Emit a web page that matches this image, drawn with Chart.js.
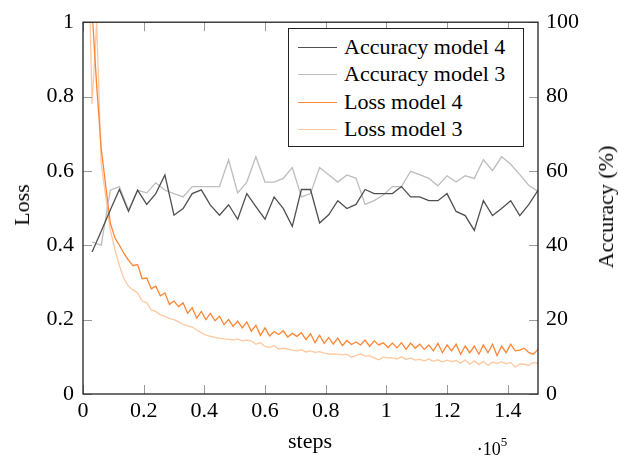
<!DOCTYPE html>
<html>
<head>
<meta charset="utf-8">
<script src="https://cdn.jsdelivr.net/npm/chart.js@4.4.1/dist/chart.umd.min.js"></script>
<style>
  body { margin: 0; background: #fff; }
  #wrap { position: relative; width: 618px; height: 458px; font-family: "Liberation Serif", serif; color: #000; }
  .lbl { position: absolute; white-space: nowrap; line-height: 1; font-size: 22px; transform: translate(-50%, -50%); }
  .rot { transform: translate(-50%, -50%) rotate(-90deg); }
  #legend { position: absolute; left: 288px; top: 28px; width: 234px; height: 117px; border: 1.3px solid #222; background: #fff; }
  .row { position: absolute; left: 0; height: 22px; font-size: 22px; line-height: 22px; white-space: nowrap; }
  .row .sw { position: absolute; left: 9px; top: 11px; width: 39px; height: 0; border-top: 1.3px solid; }
  .row .tx { position: absolute; left: 55px; top: 0; }
</style>
</head>
<body>
<div id="wrap">
  <canvas id="myChart" width="618" height="458"></canvas>
  <div class="lbl rot" style="left:22px; top:205px;">Loss</div>
  <div class="lbl rot" style="left:606px; top:207px;">Accuracy (%)</div>
  <div class="lbl" style="left:310px; top:441px;">steps</div>
  <div class="lbl" style="left:492px; top:447px; font-size:18px;">·10<sup style="font-size:13px; position:relative; top:-2px;">5</sup></div>
  <div id="legend"></div>
</div>
<script>
// steps (x positions of the logged values)
const accSteps = Array.from({ length: 50 }, (_, i) => (i + 1) * 3000);
const lossSteps = Array.from({ length: 100 }, (_, i) => (i + 1) * 1500);

// accuracy in %
const accModel4 = [38.2, 43.8, 49.5, 55.0, 49.1, 54.8, 51.0, 53.9, 58.9, 48.1,
  49.9, 53.9, 54.9, 50.8, 48.1, 50.9, 47.0, 53.9, 50.4, 47.0,
  53.0, 49.9, 45.1, 55.0, 55.0, 46.0, 48.2, 52.0, 49.9, 51.0,
  55.0, 53.9, 53.9, 53.9, 55.8, 53.0, 53.0, 52.0, 52.0, 53.9,
  49.1, 48.0, 44.0, 52.0, 48.0, 49.9, 52.0, 48.0, 51.0, 54.8];
const accModel3 = [40.9, 40.0, 54.8, 55.8, 49.5, 54.8, 54.1, 56.8, 54.8, 53.9,
  53.0, 55.8, 55.8, 55.8, 55.8, 63.0, 54.1, 57.0, 63.8, 57.0,
  57.0, 58.0, 60.9, 53.0, 53.9, 60.9, 59.0, 57.0, 58.9, 58.0,
  51.0, 52.0, 53.5, 55.8, 55.8, 59.9, 59.0, 58.0, 56.0, 58.7,
  57.0, 58.7, 58.0, 63.0, 60.1, 63.8, 61.8, 59.0, 56.1, 54.5];

// loss
const lossModel4 = [1.6, 1.03, 0.83, 0.66, 0.56, 0.46, 0.42, 0.40, 0.378, 0.36,
  0.345, 0.348, 0.31, 0.312, 0.283, 0.29, 0.264, 0.272, 0.241, 0.25,
  0.235, 0.245, 0.217, 0.232, 0.204, 0.222, 0.2, 0.217, 0.197, 0.209,
  0.187, 0.2, 0.182, 0.196, 0.178, 0.194, 0.169, 0.185, 0.158, 0.178,
  0.156, 0.168, 0.16, 0.17, 0.153, 0.163, 0.155, 0.165, 0.146, 0.162,
  0.138, 0.158, 0.136, 0.152, 0.134, 0.15, 0.13, 0.144, 0.133, 0.14,
  0.132, 0.145, 0.128, 0.143, 0.132, 0.138, 0.125, 0.137, 0.124, 0.138,
  0.12, 0.137, 0.123, 0.134, 0.12, 0.132, 0.116, 0.136, 0.111, 0.132,
  0.116, 0.134, 0.107, 0.129, 0.111, 0.129, 0.107, 0.132, 0.111, 0.134,
  0.103, 0.129, 0.111, 0.134, 0.116, 0.118, 0.123, 0.111, 0.107, 0.12];
const lossModel3 = [1.3, 0.78, 1.0, 0.62, 0.53, 0.44, 0.39, 0.345, 0.31, 0.29,
  0.28, 0.272, 0.25, 0.246, 0.226, 0.222, 0.213, 0.209, 0.203, 0.2,
  0.194, 0.187, 0.183, 0.18, 0.172, 0.165, 0.158, 0.155, 0.152, 0.15,
  0.148, 0.147, 0.145, 0.148, 0.143, 0.145, 0.143, 0.134, 0.138, 0.128,
  0.125, 0.13, 0.121, 0.123, 0.121, 0.118, 0.116, 0.119, 0.113, 0.116,
  0.112, 0.114, 0.11, 0.107, 0.108, 0.107, 0.105, 0.107, 0.099, 0.103,
  0.108, 0.102, 0.103, 0.097, 0.092, 0.099, 0.097, 0.097, 0.094, 0.1,
  0.093, 0.097, 0.091, 0.093, 0.089, 0.094, 0.088, 0.092, 0.086, 0.091,
  0.087, 0.09, 0.083, 0.092, 0.08, 0.089, 0.079, 0.088, 0.077, 0.086,
  0.082, 0.087, 0.081, 0.085, 0.072, 0.081, 0.08, 0.077, 0.085, 0.082];

// axis ticks
const xTicks = [0, 20000, 40000, 60000, 80000, 100000, 120000, 140000];
const lossTicks = [0, 0.2, 0.4, 0.6, 0.8, 1];
const accTicks = [0, 20, 40, 60, 80, 100];

const series = [
  { label: 'Accuracy model 4', steps: accSteps, values: accModel4, color: '#505050', axis: 'y2' },
  { label: 'Accuracy model 3', steps: accSteps, values: accModel3, color: '#bdbdbd', axis: 'y2' },
  { label: 'Loss model 4', steps: lossSteps, values: lossModel4, color: '#ff8533', axis: 'y' },
  { label: 'Loss model 3', steps: lossSteps, values: lossModel3, color: '#ffc8a0', axis: 'y' }
];

const font = { family: '"Liberation Serif", serif', size: 22 };
const TICK = 9;

// pgfplots-like frame with inward ticks
const framePlugin = {
  id: 'frame',
  afterDatasetsDraw(chart) {
    const { ctx, chartArea: a, scales } = chart;
    ctx.save();
    ctx.strokeStyle = '#9a9a9a';
    ctx.lineWidth = 1;
    ctx.beginPath();
    xTicks.forEach(v => {
      const px = Math.round(scales.x.getPixelForValue(v)) + 0.5;
      ctx.moveTo(px, a.bottom); ctx.lineTo(px, a.bottom - TICK);
      ctx.moveTo(px, a.top); ctx.lineTo(px, a.top + TICK);
    });
    lossTicks.forEach(v => {
      const py = Math.round(scales.y.getPixelForValue(v)) + 0.5;
      ctx.moveTo(a.left, py); ctx.lineTo(a.left + TICK, py);
    });
    accTicks.forEach(v => {
      const py = Math.round(scales.y2.getPixelForValue(v)) + 0.5;
      ctx.moveTo(a.right, py); ctx.lineTo(a.right - TICK, py);
    });
    ctx.stroke();
    ctx.strokeStyle = '#222';
    ctx.lineWidth = 1.3;
    ctx.strokeRect(a.left, a.top, a.right - a.left, a.bottom - a.top);
    ctx.restore();
  }
};

const ctx = document.getElementById('myChart').getContext('2d');
new Chart(ctx, {
  type: 'line',
  data: {
    datasets: series.map((s, k) => ({
      label: s.label,
      data: s.steps.map((x, i) => ({ x: x, y: s.values[i] })),
      yAxisID: s.axis,
      borderColor: s.color,
      backgroundColor: s.color,
      borderWidth: 1.3,
      pointRadius: 0,
      tension: 0,
      order: k
    }))
  },
  options: {
    responsive: false,
    animation: false,
    devicePixelRatio: 1,
    layout: { padding: { top: 16, left: 0, right: 0, bottom: 0 } },
    plugins: { legend: { display: false }, tooltip: { enabled: false } },
    scales: {
      x: {
        type: 'linear', min: 0, max: 150000,
        afterBuildTicks: s => { s.ticks = xTicks.map(v => ({ value: v })); },
        afterFit: s => { s.height = 64; },
        grid: { display: false, drawTicks: false },
        border: { display: false },
        ticks: { font: font, color: '#000', padding: 4, maxRotation: 0,
          callback: v => String(+(v / 1e5).toFixed(1)) }
      },
      y: {
        type: 'linear', position: 'left', min: 0, max: 1,
        afterBuildTicks: s => { s.ticks = lossTicks.map(v => ({ value: v })); },
        afterFit: s => { s.width = 83; },
        grid: { display: false, drawTicks: false },
        border: { display: false },
        ticks: { font: font, color: '#000', padding: 9, callback: v => String(v) }
      },
      y2: {
        type: 'linear', position: 'right', min: 0, max: 100,
        afterBuildTicks: s => { s.ticks = accTicks.map(v => ({ value: v })); },
        afterFit: s => { s.width = 80; },
        grid: { display: false, drawTicks: false },
        border: { display: false },
        ticks: { font: font, color: '#000', padding: 8, callback: v => String(v) }
      }
    }
  },
  plugins: [framePlugin]
});

// legend box inside the plot
const legend = document.getElementById('legend');
series.forEach((s, k) => {
  const row = document.createElement('div');
  row.className = 'row';
  row.style.top = (7 + k * 27.3) + 'px';
  row.innerHTML = '<span class="sw" style="border-color:' + s.color + '"></span><span class="tx">' + s.label + '</span>';
  legend.appendChild(row);
});
</script>
</body>
</html>
